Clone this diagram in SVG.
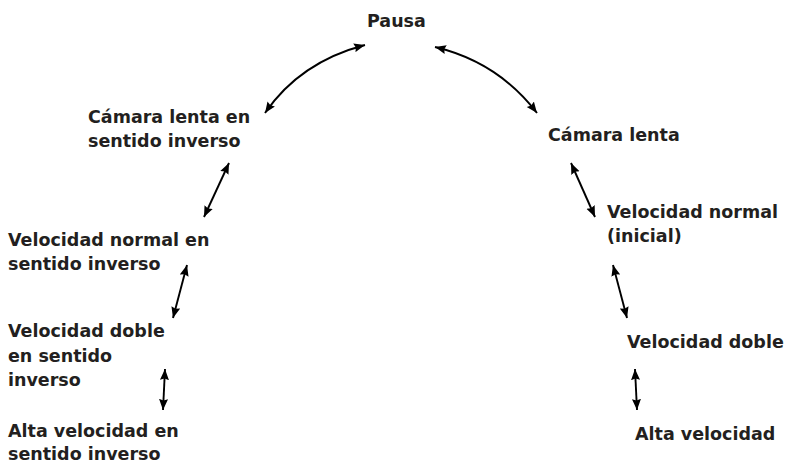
<svg xmlns="http://www.w3.org/2000/svg" width="788" height="465" viewBox="0 0 788 465">
<style>
  .lbl { font-family: "DejaVu Sans", "Liberation Sans", sans-serif; font-weight: bold; font-size: 17.5px; fill: #231f20; }
  .con { fill: none; stroke: #000; stroke-width: 1.9; marker-start: url(#ah); marker-end: url(#ah); }
</style>
<defs>
  <marker id="ah" markerUnits="userSpaceOnUse" markerWidth="12" markerHeight="10" refX="11" refY="4.5" orient="auto-start-reverse" viewBox="0 0 12 9">
    <path d="M0,0 L11,4.5 L0,9 L1.5,4.5 z" fill="#000"/>
  </marker>
</defs>
<rect width="788" height="465" fill="#fff"/>
<g id="connectors">
  <path class="con" d="M265,113 Q300,62 365,45"/>
  <path class="con" d="M435,47 Q498,62 537,113"/>
  <path class="con" d="M229,163 L204,217"/>
  <path class="con" d="M187,265 L173,318"/>
  <path class="con" d="M165,369 L163,410"/>
  <path class="con" d="M571,163 L595,217"/>
  <path class="con" d="M613,265 L627,318"/>
  <path class="con" d="M635,369 L637,410"/>
</g>
<g id="pausa"><text class="lbl" x="367" y="27">Pausa</text></g>
<g id="camara-lenta-inverso"><text class="lbl" x="88" y="123">Cámara lenta en</text><text class="lbl" x="88" y="147">sentido inverso</text></g>
<g id="velocidad-normal-inverso"><text class="lbl" x="8" y="246">Velocidad normal en</text><text class="lbl" x="8" y="270">sentido inverso</text></g>
<g id="velocidad-doble-inverso"><text class="lbl" x="8" y="337">Velocidad doble</text><text class="lbl" x="8" y="361.5">en sentido</text><text class="lbl" x="8" y="386">inverso</text></g>
<g id="alta-velocidad-inverso"><text class="lbl" x="8" y="437">Alta velocidad en</text><text class="lbl" x="8" y="460">sentido inverso</text></g>
<g id="camara-lenta"><text class="lbl" x="548" y="141">Cámara lenta</text></g>
<g id="velocidad-normal"><text class="lbl" x="607" y="218">Velocidad normal</text><text class="lbl" x="607" y="242">(inicial)</text></g>
<g id="velocidad-doble"><text class="lbl" x="627" y="348">Velocidad doble</text></g>
<g id="alta-velocidad"><text class="lbl" x="635" y="440">Alta velocidad</text></g>
</svg>
